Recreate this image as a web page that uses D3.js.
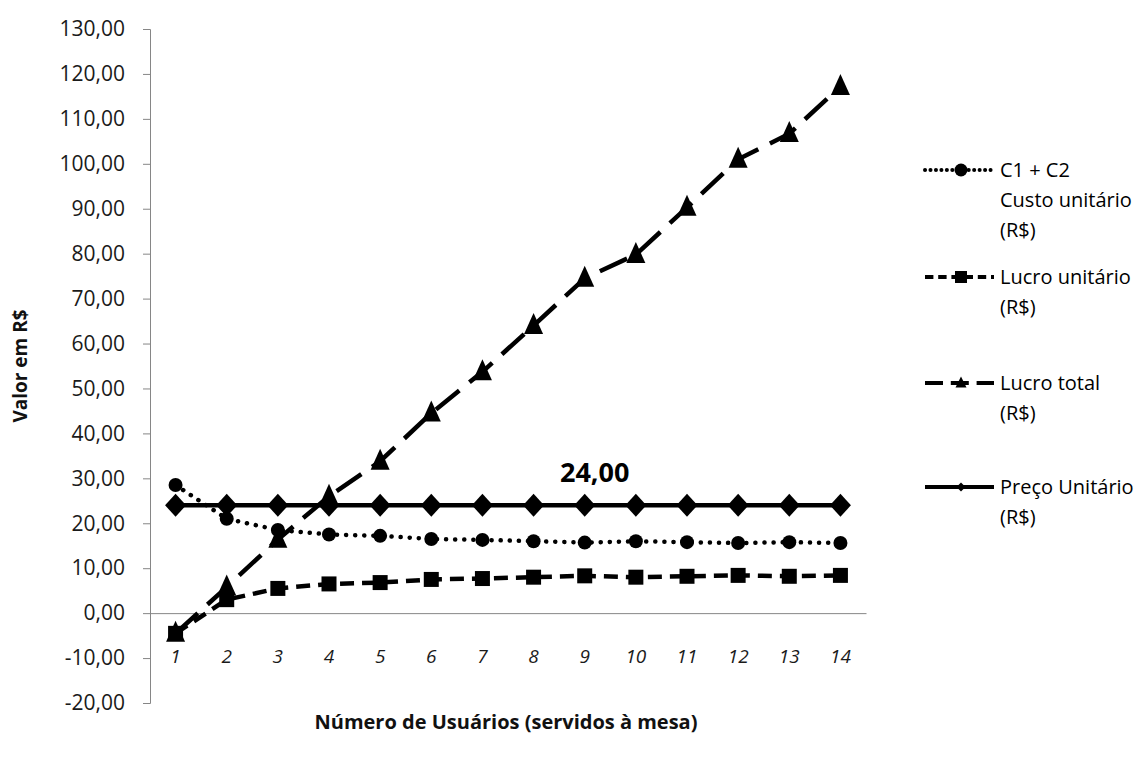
<!DOCTYPE html>
<html>
<head>
<meta charset="utf-8">
<script src="https://cdn.jsdelivr.net/npm/d3@7"></script>
<style>
  body { margin: 0; background: #fff; }
  svg { display: block; }
  text { font-family: "Open Sans", sans-serif; fill: #111; }
</style>
</head>
<body>
<div id="grafico"></div>
<script>

const width = 1142, height = 760;

// DADOS

const usuarios = [1, 2, 3, 4, 5, 6, 7, 8, 9, 10, 11, 12, 13, 14];
const custoUnitario = [28.5, 21.0, 18.5, 17.5, 17.2, 16.5, 16.3, 16.0, 15.7, 16.0, 15.8, 15.6, 15.8, 15.6];
const lucroUnitario = [-4.5, 3.0, 5.5, 6.5, 6.8, 7.5, 7.7, 8.0, 8.3, 8.0, 8.2, 8.4, 8.2, 8.4];
const lucroTotal = [-4.5, 5.8, 16.4, 26.0, 33.8, 44.5, 53.7, 64.0, 74.5, 79.8, 90.3, 101.0, 106.7, 117.2];
const precoUnitario = [24, 24, 24, 24, 24, 24, 24, 24, 24, 24, 24, 24, 24, 24];
const yTicks = [-20, -10, 0, 10, 20, 30, 40, 50, 60, 70, 80, 90, 100, 110, 120, 130];

const nomes = [
	["C1 + C2", "Custo unitário", "(R$)"],
	["Lucro unitário", "(R$)"],
	["Lucro total", "(R$)"],
	["Preço Unitário", "(R$)"]
];

// rótulo de dados mostrado (índice do ponto no preço unitário)
const rotuloIndice = 8;

const br = d3.formatLocale({decimal: ",", thousands: ".", grouping: [3], currency: ["R$", ""], minus: "-"});
const fmt = br.format(".2f");

// MARCADORES

function circulo(r) {
	return function (ctx) { ctx.moveTo(r, 0); ctx.arc(0, 0, r, 0, 2 * Math.PI); };
}
function quadrado(s) {
	return function (ctx) { ctx.rect(-s / 2, -s / 2, s, s); };
}
function triangulo(w, h) {
	return function (ctx) {
		ctx.moveTo(0, -h * 0.6); ctx.lineTo(w / 2, h * 0.4); ctx.lineTo(-w / 2, h * 0.4); ctx.closePath();
	};
}
function losango(w, h) {
	return function (ctx) {
		ctx.moveTo(0, -h / 2); ctx.lineTo(w / 2, 0); ctx.lineTo(0, h / 2); ctx.lineTo(-w / 2, 0); ctx.closePath();
	};
}
function forma(fn) {
	const p = d3.path(); fn(p); return p.toString();
}

const series = [
	{valores: custoUnitario, dash: "0.1 9", cap: "round", marca: circulo(7), marcaLeg: circulo(6.5), nome: nomes[0]},
	{valores: lucroUnitario, dash: "14 8", cap: "butt", marca: quadrado(15), marcaLeg: quadrado(12), nome: nomes[1]},
	{valores: lucroTotal, dash: "30 13", cap: "butt", marca: triangulo(19, 21), marcaLeg: triangulo(11, 11), nome: nomes[2]},
	{valores: precoUnitario, dash: null, cap: "butt", marca: losango(21, 23), marcaLeg: losango(9, 9), nome: nomes[3]}
];

// ordem de desenho
const ordem = [3, 0, 1, 2];

// ESCALAS

const x = d3.scaleBand().domain(usuarios).range([150, 866]).padding(0);
const y = d3.scaleLinear().domain([-20, 130]).range([703, 29]);
const cx = d => x(d) + x.bandwidth() / 2;

let svg = d3.select("#grafico")
	.append("svg")
	.attr("width", width)
	.attr("height", height);

// EIXO Y
let eixoY = svg.append("g")
	.attr("transform", "translate(150,0)")
	.call(d3.axisLeft(y).tickValues(yTicks).tickFormat(fmt).tickSize(7).tickSizeOuter(7).tickPadding(18));
eixoY.select(".domain").attr("stroke", "#868686");
eixoY.selectAll(".tick line").attr("stroke", "#868686");
eixoY.selectAll(".tick text")
	.style("font-size", "21px")
	.style("fill", "#1a1a1a");

// EIXO X (cruza em zero, rótulos embaixo)
let eixoX = svg.append("g")
	.attr("transform", "translate(0," + y(0) + ")")
	.call(d3.axisBottom(x).tickSize(0).tickSizeOuter(0).tickPadding(36));
eixoX.select(".domain").attr("stroke", "#868686");
eixoX.selectAll(".tick text")
	.style("font-size", "19px")
	.style("font-style", "italic")
	.style("fill", "#1a1a1a");

// TÍTULOS
svg.append("text")
	.attr("x", 506)
	.attr("y", 729)
	.attr("text-anchor", "middle")
	.style("font-size", "20px")
	.style("font-weight", "bold")
	.text("Número de Usuários (servidos à mesa)");

svg.append("text")
	.attr("transform", "translate(27," + ((y(130) + y(-20)) / 2) + ") rotate(-90)")
	.attr("text-anchor", "middle")
	.style("font-size", "19px")
	.style("font-weight", "bold")
	.text("Valor em R$");

// SÉRIES
const linha = d3.line()
	.x((d, i) => cx(usuarios[i]))
	.y(d => y(d));

let plot = svg.append("g");

ordem.forEach(function (k) {
	let s = series[k];
	let g = plot.append("g");
	g.append("path")
		.datum(s.valores)
		.attr("d", linha)
		.attr("fill", "none")
		.attr("stroke", "#000")
		.attr("stroke-width", 4.5)
		.attr("stroke-linecap", s.cap)
		.attr("stroke-dasharray", s.dash);
	g.selectAll(".marca")
		.data(s.valores)
		.enter()
		.append("path")
		.attr("class", "marca")
		.attr("d", forma(s.marca))
		.attr("transform", (d, i) => "translate(" + cx(usuarios[i]) + "," + y(d) + ")")
		.attr("fill", "#000");
});

// rótulo 24,00
svg.append("text")
	.attr("x", cx(usuarios[rotuloIndice]) + 10)
	.attr("y", y(precoUnitario[rotuloIndice]) - 23)
	.attr("text-anchor", "middle")
	.style("font-size", "27px")
	.style("font-weight", "bold")
	.style("fill", "#000")
	.text(fmt(precoUnitario[rotuloIndice]));

// LEGENDA
const legTopo = [170, 277, 383, 487];
let leg = svg.append("g");

series.forEach(function (s, k) {
	let g = leg.append("g").attr("transform", "translate(0," + legTopo[k] + ")");
	g.append("line")
		.attr("x1", 925).attr("x2", 994)
		.attr("y1", 0).attr("y2", 0)
		.attr("stroke", "#000")
		.attr("stroke-width", 4)
		.attr("stroke-linecap", s.cap)
		.attr("stroke-dasharray", s.dash == null ? null : s.dash.split(" ").map(v => +v * 0.6).join(" "));
	g.append("path")
		.attr("d", forma(s.marcaLeg))
		.attr("transform", "translate(961,0)")
		.attr("fill", "#000");
	s.nome.forEach(function (t, j) {
		g.append("text")
			.attr("x", 1000)
			.attr("y", j * 30)
			.attr("dy", "0.35em")
			.style("font-size", "20px")
			.style("fill", "#000")
			.text(t);
	});
});

</script>
</body>
</html>
